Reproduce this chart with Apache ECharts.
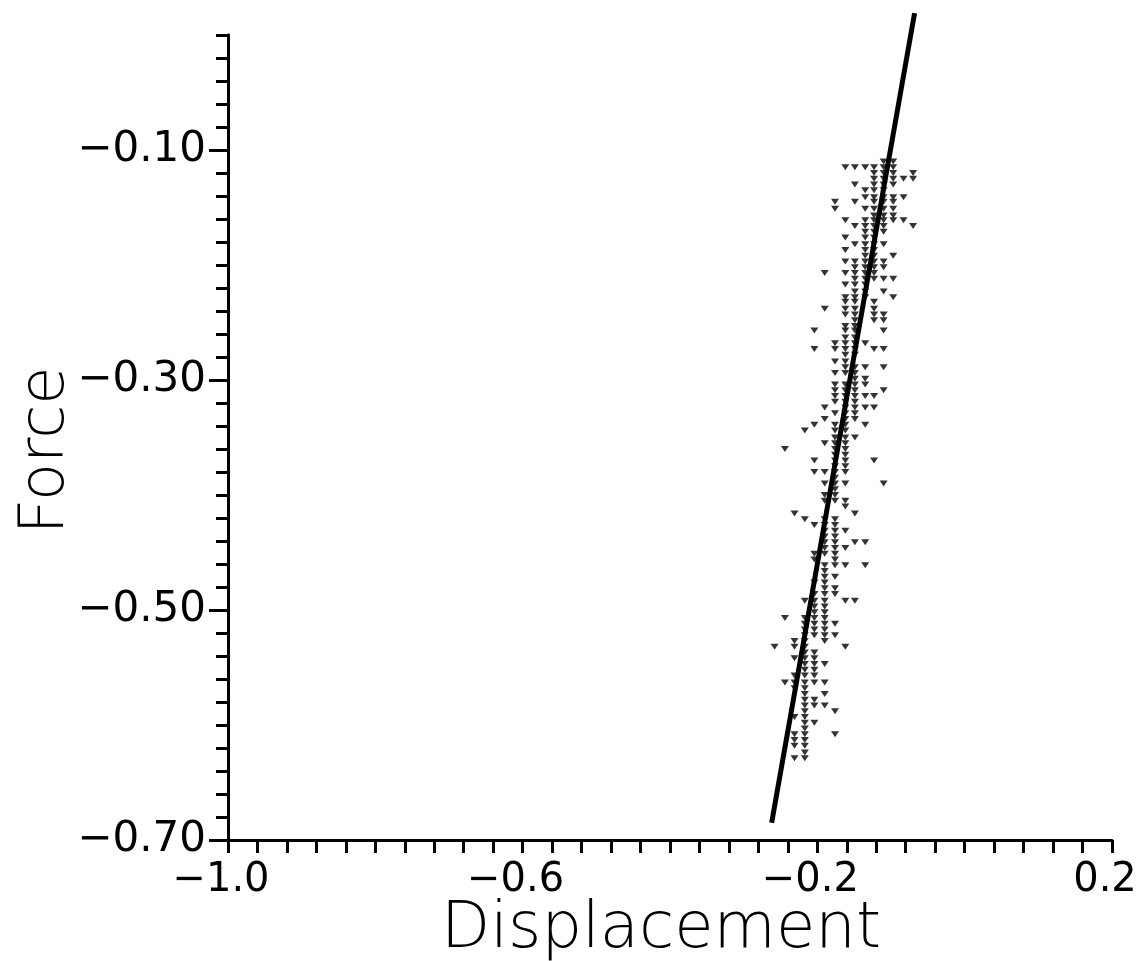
<!DOCTYPE html>
<html><head><meta charset="utf-8">
<script src="https://cdn.jsdelivr.net/npm/echarts@6/dist/echarts.min.js"></script>
<style>html,body{margin:0;padding:0;background:#fff}#c{width:1141px;height:961px}</style>
</head><body><div id="c"></div>
<script>
const xLabelValues = [-1.0, -0.6, -0.2, 0.2];
const yLabelValues = [-0.70, -0.50, -0.30, -0.10];

// scatter rows: y value of each row, and x values of the points in that row
const rowY = [-0.110,-0.115,-0.120,-0.125,-0.130,-0.135,-0.141,-0.145,-0.151,-0.157,
  -0.161,-0.166,-0.171,-0.176,-0.182,-0.187,-0.192,-0.197,-0.202,-0.207,
  -0.212,-0.217,-0.223,-0.228,-0.232,-0.238,-0.243,-0.248,-0.253,-0.257,
  -0.263,-0.268,-0.273,-0.278,-0.284,-0.289,-0.294,-0.299,-0.304,-0.309,
  -0.314,-0.319,-0.324,-0.329,-0.334,-0.339,-0.344,-0.350,-0.355,-0.360,
  -0.365,-0.370,-0.375,-0.380,-0.385,-0.390,-0.395,-0.400,-0.405,-0.410,
  -0.416,-0.421,-0.426,-0.431,-0.436,-0.441,-0.446,-0.451,-0.456,-0.461,
  -0.466,-0.471,-0.476,-0.481,-0.486,-0.492,-0.497,-0.502,-0.507,-0.512,
  -0.517,-0.522,-0.527,-0.532,-0.537,-0.542,-0.547,-0.552,-0.557,-0.563,
  -0.568,-0.573,-0.578,-0.583,-0.588,-0.593,-0.598,-0.603,-0.608,-0.613,
  -0.618,-0.624,-0.629];
const rowX = [
  [-0.110,-0.097],
  [-0.162,-0.149,-0.135,-0.123,-0.110,-0.097],
  [-0.123,-0.110,-0.097,-0.070],
  [-0.123,-0.110,-0.097,-0.083,-0.070],
  [-0.149,-0.123,-0.110,-0.097],
  [-0.135,-0.123,-0.110],
  [-0.135,-0.123,-0.110,-0.097,-0.083],
  [-0.176,-0.149,-0.123,-0.110,-0.097],
  [-0.176,-0.135,-0.123,-0.110,-0.097],
  [-0.123,-0.110,-0.097],
  [-0.162,-0.135,-0.123,-0.110,-0.097,-0.083],
  [-0.149,-0.135,-0.123,-0.110,-0.070],
  [-0.135,-0.123,-0.110],
  [-0.162,-0.135,-0.123],
  [-0.149,-0.135,-0.123,-0.110],
  [-0.162,-0.135,-0.123],
  [-0.135,-0.123,-0.097],
  [-0.162,-0.149,-0.135,-0.123,-0.110],
  [-0.149,-0.135,-0.123,-0.110],
  [-0.190,-0.162,-0.149,-0.135,-0.123],
  [-0.149,-0.135,-0.123,-0.110,-0.097],
  [-0.162,-0.149,-0.135],
  [-0.149,-0.135,-0.110],
  [-0.162,-0.149,-0.135,-0.097],
  [-0.162,-0.149,-0.123],
  [-0.190,-0.162,-0.149,-0.123],
  [-0.162,-0.149,-0.123,-0.110],
  [-0.149,-0.123,-0.110],
  [-0.162,-0.149],
  [-0.204,-0.162,-0.149,-0.110],
  [-0.162,-0.149],
  [-0.176,-0.162,-0.149,-0.135],
  [-0.204,-0.176,-0.162,-0.149,-0.123,-0.110],
  [-0.162,-0.149],
  [-0.176,-0.162],
  [-0.162,-0.149,-0.135,-0.110],
  [-0.176,-0.162,-0.149],
  [-0.149,-0.135],
  [-0.176,-0.162,-0.149,-0.135],
  [-0.176,-0.162,-0.149,-0.110],
  [-0.176,-0.162,-0.149,-0.135,-0.123],
  [-0.176,-0.162,-0.149],
  [-0.190,-0.162,-0.149,-0.135,-0.123],
  [-0.176,-0.162,-0.149],
  [-0.190,-0.162,-0.149],
  [-0.204,-0.176,-0.162,-0.135],
  [-0.217,-0.176,-0.162],
  [-0.176,-0.162,-0.149],
  [-0.190,-0.176,-0.162],
  [-0.244,-0.176,-0.162],
  [-0.176,-0.162],
  [-0.204,-0.176,-0.162,-0.123],
  [-0.176,-0.162],
  [-0.204,-0.190,-0.176,-0.162],
  [-0.176],
  [-0.190,-0.176,-0.162,-0.110],
  [-0.176],
  [-0.190,-0.176],
  [-0.190,-0.176,-0.162],
  [-0.162],
  [-0.231,-0.149],
  [-0.217,-0.190,-0.176],
  [-0.204,-0.190,-0.176],
  [-0.190,-0.176,-0.162],
  [-0.190,-0.176],
  [-0.190,-0.176,-0.149,-0.135],
  [-0.190,-0.176,-0.162],
  [-0.204,-0.190,-0.176],
  [-0.204,-0.176],
  [-0.190,-0.176,-0.162,-0.135],
  [-0.190],
  [-0.190,-0.176],
  [-0.204,-0.190],
  [-0.190,-0.176],
  [-0.204,-0.190,-0.176],
  [-0.217,-0.204,-0.190,-0.162,-0.149],
  [-0.204,-0.190],
  [-0.204,-0.190],
  [-0.244,-0.217,-0.204,-0.190],
  [-0.217,-0.204,-0.190,-0.176],
  [-0.217,-0.204,-0.190],
  [-0.217,-0.204,-0.190,-0.176],
  [-0.231,-0.217,-0.190],
  [-0.258,-0.231,-0.217,-0.162],
  [-0.217,-0.204],
  [-0.231,-0.217,-0.204],
  [-0.217,-0.204,-0.190],
  [-0.217,-0.204],
  [-0.231,-0.217,-0.204],
  [-0.244,-0.231,-0.217,-0.204,-0.190],
  [-0.231,-0.217],
  [-0.217,-0.190],
  [-0.217,-0.204],
  [-0.217,-0.204,-0.190],
  [-0.217,-0.176],
  [-0.231,-0.217],
  [-0.217,-0.204],
  [-0.217],
  [-0.231,-0.217,-0.176],
  [-0.231,-0.217],
  [-0.231,-0.217],
  [-0.217],
  [-0.231,-0.217]
];
// fitted line end points
const fitLine = [[-0.262, -0.685], [-0.068, 0.019]];

const points = [];
rowY.forEach((y, i) => rowX[i].forEach(x => points.push([x, y])));

const minus = s => s.replace('-', '\u2212');
const FONT = 'DejaVu Sans';
const chart = echarts.init(document.getElementById('c'), null, {renderer: 'canvas'});
chart.setOption({
  animation: false,
  backgroundColor: '#fff',
  grid: {left: 228, right: 29, top: 35, bottom: 121, containLabel: false, outerBoundsMode: 'none'},
  xAxis: {
    type: 'value', min: -1.0, max: 0.2, interval: 0.04,
    name: 'Displacement', nameLocation: 'middle', nameGap: 58, nameMoveOverlap: false,
    nameTextStyle: {fontFamily: FONT, fontSize: 64, fontWeight: 200, color: '#000', padding: [0, 18, 0, 0]},
    axisLine: {onZero: false, lineStyle: {color: '#000', width: 3}},
    axisTick: {inside: false, length: 13, lineStyle: {color: '#000', width: 3}},
    axisLabel: {customValues: xLabelValues, margin: 21, fontFamily: FONT, fontSize: 40, color: '#000',
      padding: [0, 14, 0, 0], formatter: v => minus(v.toFixed(1))},
    splitLine: {show: false}
  },
  yAxis: [{
    type: 'value', min: -0.7, max: 0, interval: 0.02, position: 'left',
    name: 'Force', nameLocation: 'middle', nameGap: 150, nameRotate: 90, nameMoveOverlap: false,
    nameTextStyle: {fontFamily: FONT, fontSize: 62, fontWeight: 200, color: '#000', padding: [0, 26, 0, 0]},
    axisLine: {onZero: false, lineStyle: {color: '#000', width: 3}},
    axisTick: {inside: false, length: 12, lineStyle: {color: '#000', width: 3}},
    axisLabel: {customValues: yLabelValues, margin: 22, fontFamily: FONT, fontSize: 42, color: '#000',
      formatter: v => minus(v.toFixed(2))},
    splitLine: {show: false}
  }, {
    type: 'value', min: -0.7, max: 0, position: 'left', offset: 0,
    axisLine: {show: true, onZero: false, lineStyle: {color: '#000', width: 3}},
    axisTick: {customValues: yLabelValues, inside: false, length: 19, lineStyle: {color: '#000', width: 3}},
    axisLabel: {show: false},
    splitLine: {show: false}
  }],
  series: [{
    type: 'scatter', xAxisIndex: 0, yAxisIndex: 0,
    data: points,
    symbol: 'path://M0,0L10,0L5,8Z', symbolSize: [8, 6],
    itemStyle: {color: '#000'}
  }, {
    type: 'line', xAxisIndex: 0, yAxisIndex: 0,
    data: fitLine, clip: false, showSymbol: false, symbol: 'none',
    lineStyle: {color: '#000', width: 5}
  }]
});
</script>
</body></html>
